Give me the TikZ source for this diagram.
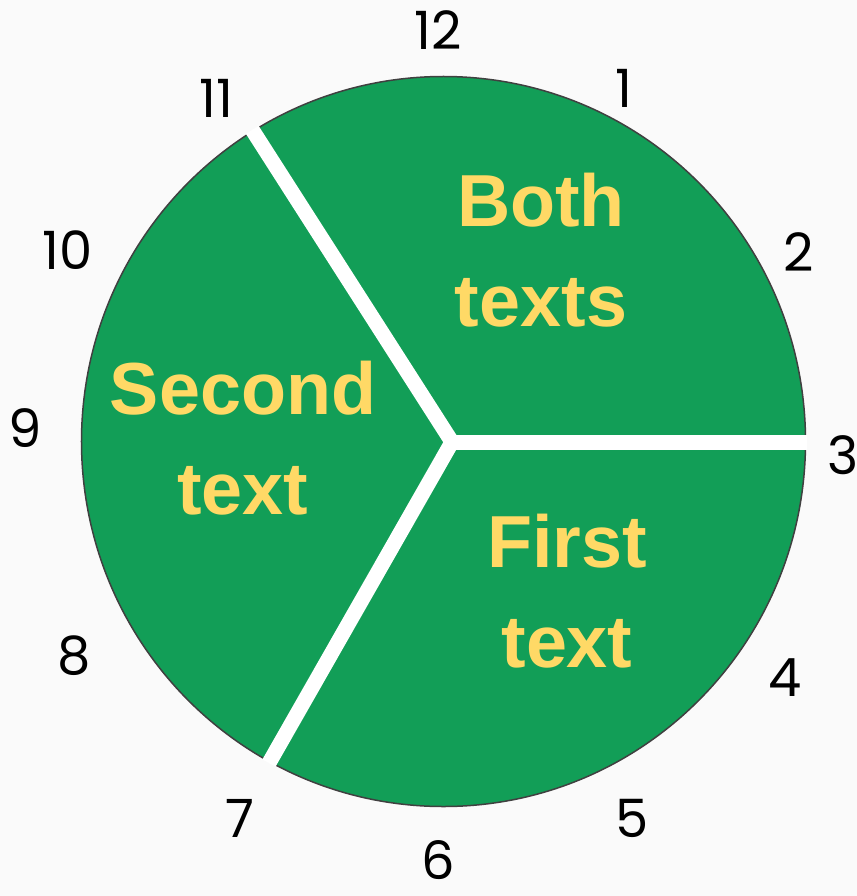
\documentclass[tikz,border=0pt]{standalone}
\usepackage{fontspec}
\newfontfamily\numfont{Poppins}
\newfontfamily\labfont{Liberation Sans}
\definecolor{bg}{HTML}{FAFAFA}
\definecolor{pie}{HTML}{129E57}
\definecolor{lab}{HTML}{FFD966}
\definecolor{rim}{HTML}{404040}
\tikzset{
  hour/.style={font=\numfont\fontsize{53}{53}\selectfont, text=black, inner sep=0pt, text depth=0pt},
  sector/.style={font=\labfont\bfseries\fontsize{74}{100}\selectfont, text=lab, align=center, inner sep=0pt},
  gap/.style={draw=white, line width=15bp}
}
\begin{document}
\begin{tikzpicture}[x=1bp,y=-1bp]
\useasboundingbox (0,0) rectangle (857,896);
\fill[bg] (0,0) rectangle (857,896);
\draw[fill=pie, draw=rim, line width=1.5bp] (443.5,441.5) ellipse [x radius=362bp, y radius=365bp];
\coordinate (j) at (452,442);
\coordinate (u) at (153.5,-24.5);
\coordinate (d) at (177.5,923.5);
\coordinate (r) at (900,442);
\begin{scope}
\clip (443.5,441.5) ellipse [x radius=363.5bp, y radius=366.5bp];
\draw[gap] (u) -- (j) -- (d);
\draw[gap] (j) -- (r);
\end{scope}
\node[sector] (both) at (541,250) {Both\\texts};
\node[sector] (second) at (243,438) {Second\\text};
\node[sector] (first) at (567,591) {First\\text};
\node[hour] (h12) at (438,30) {12};
\node[hour] (h1) at (624,88) {1};
\node[hour] (h2) at (799,252) {2};
\node[hour] (h3) at (843,455) {3};
\node[hour] (h4) at (785,678) {4};
\node[hour] (h5) at (632,818) {5};
\node[hour] (h6) at (438,860) {6};
\node[hour] (h7) at (240,818) {7};
\node[hour] (h8) at (74,655) {8};
\node[hour] (h9) at (25,428) {9};
\node[hour] (h10) at (68,250) {10};
\node[hour] (h11) at (216,98) {11};
\end{tikzpicture}
\end{document}
